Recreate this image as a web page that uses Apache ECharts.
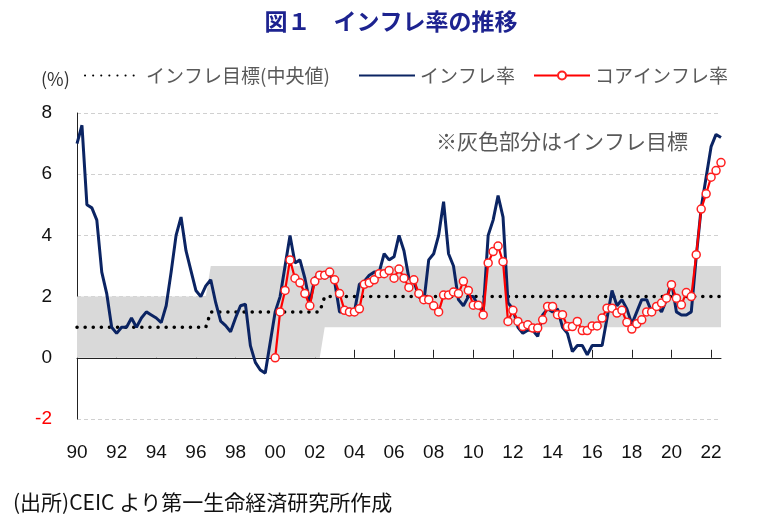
<!DOCTYPE html>
<html>
<head>
    <meta charset="utf-8">
    <title>インフレ率の推移</title>
    <script src="https://cdn.jsdelivr.net/npm/echarts@6/dist/echarts.min.js"></script>
    <style>
        body { margin: 0; background: #fff; }
    </style>
</head>
<body>
<div id="main" style="width: 782px;height:527px;"></div>

<script type="text/javascript">
    // 四半期データ（1990Q1～2022Q3）
    var startYear = 1990;

    // インフレ率（前年比, %）
    var cpi = [
        7.0, 7.6, 5.0, 4.9,     // 1990
        4.5, 2.8, 2.1, 1.0,     // 1991
        0.8, 1.0, 1.0, 1.3,     // 1992
        1.0, 1.3, 1.5, 1.4,     // 1993
        1.3, 1.15, 1.7, 2.8,    // 1994
        4.0, 4.6, 3.5, 2.85,    // 1995
        2.2, 2.0, 2.35, 2.55,   // 1996
        1.8, 1.2, 1.05, 0.85,   // 1997
        1.3, 1.7, 1.75, 0.4,    // 1998
        -0.15, -0.4, -0.5, 0.5, // 1999
        1.5, 2.0, 3.0, 4.0,     // 2000
        3.1, 3.2, 2.6, 1.8,     // 2001
        2.6, 2.8, 2.6, 2.7,     // 2002
        2.5, 1.5, 1.5, 1.6,     // 2003
        1.5, 2.4, 2.5, 2.7,     // 2004
        2.8, 2.8, 3.4, 3.2,     // 2005
        3.3, 4.0, 3.5, 2.6,     // 2006
        2.5, 2.0, 1.8, 3.2,     // 2007
        3.4, 4.0, 5.1, 3.4,     // 2008
        3.0, 1.9, 1.7, 2.0,     // 2009
        2.0, 1.7, 1.5, 4.0,     // 2010
        4.5, 5.3, 4.6, 1.8,     // 2011
        1.6, 1.0, 0.8, 0.9,     // 2012
        0.9, 0.7, 1.4, 1.6,     // 2013
        1.5, 1.6, 1.0, 0.8,     // 2014
        0.2, 0.4, 0.4, 0.1,     // 2015
        0.4, 0.4, 0.4, 1.3,     // 2016
        2.2, 1.7, 1.9, 1.6,     // 2017
        1.1, 1.5, 1.9, 1.9,     // 2018
        1.5, 1.7, 1.5, 1.9,     // 2019
        2.5, 1.5, 1.4, 1.4,     // 2020
        1.5, 3.3, 4.9, 5.9,     // 2021
        6.9, 7.3, 7.2           // 2022
    ];

    // コアインフレ率（2000Q1から）
    var coreStart = '2000Q1';
    var core = [
        0.0, 1.5, 2.2, 3.2,     // 2000
        2.6, 2.45, 2.1, 1.7,    // 2001
        2.5, 2.7, 2.7, 2.8,     // 2002
        2.55, 2.1, 1.55, 1.5,   // 2003
        1.5, 1.6, 2.4, 2.45,    // 2004
        2.55, 2.75, 2.75, 2.85, // 2005
        2.6, 2.9, 2.6, 2.3,     // 2006
        2.55, 2.1, 1.9, 1.9,    // 2007
        1.7, 1.5, 2.05, 2.05,   // 2008
        2.15, 2.1, 2.5, 2.2,    // 2009
        1.72, 1.72, 1.4, 3.1,   // 2010
        3.47, 3.65, 3.14, 1.19, // 2011
        1.55, 1.19, 1.02, 1.08, // 2012
        0.97, 0.97, 1.24, 1.68, // 2013
        1.68, 1.41, 1.41, 1.02, // 2014
        1.02, 1.19, 0.89, 0.89, // 2015
        1.04, 1.04, 1.3, 1.62,  // 2016
        1.62, 1.46, 1.55, 1.16, // 2017
        0.94, 1.11, 1.24, 1.5,  // 2018
        1.5, 1.68, 1.79, 1.95,  // 2019
        2.39, 1.95, 1.73, 2.13, // 2020
        2.0, 3.37, 4.86, 5.36,  // 2021
        5.9, 6.12, 6.38         // 2022
    ];

    // インフレ目標（期間ごと）
    var targetFrom = ['1990Q1', '1996Q4', '2002Q3'];
    var targetLow  = [0, 0, 1];
    var targetHigh = [2, 3, 3];
    var targetMid  = [1, 1.5, 2];

    // 目盛ラベル（2年ごと）
    var xTickLabels = ['90','92','94','96','98','00','02','04','06','08','10','12','14','16','18','20','22'];
    var yTicks = [-2, 0, 2, 4, 6, 8];

    // カテゴリ（四半期）
    var quarters = [];
    for (var i = 0; i < cpi.length; i++) {
        quarters.push((startYear + Math.floor(i / 4)) + 'Q' + (i % 4 + 1));
    }

    // 目標帯を四半期ごとに展開
    var lowSeries = [], bandSeries = [], midSeries = [];
    quarters.forEach(function (q) {
        var k = 0;
        for (var j = 0; j < targetFrom.length; j++) {
            if (q >= targetFrom[j]) k = j;
        }
        lowSeries.push(targetLow[k]);
        bandSeries.push(targetHigh[k] - targetLow[k]);
        midSeries.push(targetMid[k]);
    });

    var coreOffset = quarters.indexOf(coreStart);
    var coreSeries = quarters.map(function (q, i) {
        var v = core[i - coreOffset];
        return (i < coreOffset || v === undefined) ? null : v;
    });

    var myChart = echarts.init(document.getElementById('main'));

    var font = '"Noto Sans CJK JP", "Noto Sans", sans-serif';
    var legendText = { fontSize: 19, color: '#595959', fontFamily: font };

    var option = {
        animation: false,
        backgroundColor: '#fff',
        textStyle: { fontFamily: font },
        title: [{
            text: '図１　インフレ率の推移',
            left: 'center',
            top: 5,
            textStyle: { fontSize: 23, fontWeight: 'bold', color: '#1d2390', fontFamily: font }
        }, {
            text: '(%)',
            left: 36,
            top: 65,
            textStyle: { fontSize: 18, fontWeight: 'normal', color: '#333', fontFamily: font }
        }, {
            text: '※灰色部分はインフレ目標',
            left: 431,
            top: 126,
            textStyle: { fontSize: 21, fontWeight: 'normal', color: '#595959', fontFamily: font }
        }, {
            text: '(出所)CEIC より第一生命経済研究所作成',
            left: 8,
            top: 487,
            textStyle: { fontSize: 21, fontWeight: 'normal', color: '#111', fontFamily: font }
        }],
        legend: [{
            data: ['インフレ目標(中央値)'],
            left: 84, top: 66, padding: 0,
            itemWidth: 56, itemHeight: 20,
            itemStyle: { opacity: 0 },
            textStyle: legendText
        }, {
            data: ['インフレ率'],
            left: 358, top: 66, padding: 0,
            itemWidth: 56, itemHeight: 20,
            itemStyle: { opacity: 0 },
            textStyle: legendText
        }, {
            data: ['コアインフレ率'],
            left: 533, top: 66, padding: 0,
            itemWidth: 56, itemHeight: 10,
            textStyle: legendText
        }],
        grid: {
            left: 77,
            right: 61,
            top: 113,
            bottom: 108,
            containLabel: false
        },
        xAxis: [{
            // 下側のラベル用
            type: 'category',
            data: quarters,
            boundaryGap: false,
            position: 'bottom',
            axisLine: { show: false, onZero: false },
            axisTick: { show: false },
            splitLine: { show: false },
            axisLabel: {
                interval: 7,
                margin: 24,
                fontSize: 19,
                color: '#111',
                fontFamily: '"Liberation Sans Narrow", "Liberation Sans", sans-serif',
                formatter: function (v, idx) { return xTickLabels[idx / 8]; }
            }
        }, {
            // 0 の位置の軸線と目盛
            type: 'category',
            data: quarters,
            boundaryGap: false,
            position: 'top',
            axisLine: { show: true, onZero: true, onZeroAxisIndex: 0, lineStyle: { color: '#222', width: 1 } },
            axisTick: { show: true, interval: 7, inside: false, length: 8, lineStyle: { color: '#222' } },
            axisLabel: { show: false },
            splitLine: { show: false }
        }],
        yAxis: {
            type: 'value',
            min: yTicks[0],
            max: yTicks[yTicks.length - 1],
            interval: 2,
            axisLine: { show: true, lineStyle: { color: '#222', width: 1 } },
            axisTick: { show: false },
            axisLabel: {
                margin: 25,
                fontSize: 19,
                fontFamily: '"Liberation Sans", sans-serif',
                color: function (v) { return Number(v) < 0 ? '#ff0000' : '#111'; }
            },
            splitLine: { lineStyle: { color: '#d0d0d0', type: [4, 3] } }
        },
        series: [{
            name: 'lo',
            type: 'line',
            stack: 'band',
            data: lowSeries,
            symbol: 'none',
            lineStyle: { opacity: 0 },
            silent: true,
            z: 1
        }, {
            name: 'band',
            type: 'line',
            stack: 'band',
            data: bandSeries,
            symbol: 'none',
            lineStyle: { opacity: 0 },
            areaStyle: { color: '#d9d9d9', opacity: 1 },
            silent: true,
            z: 1
        }, {
            name: 'インフレ目標(中央値)',
            type: 'line',
            data: midSeries,
            symbol: 'none',
            itemStyle: { color: '#000' },
            lineStyle: { color: '#000', width: 3.5, type: [0.1, 8], cap: 'round' },
            z: 3
        }, {
            name: 'インフレ率',
            type: 'line',
            data: cpi,
            symbol: 'none',
            itemStyle: { color: '#0b2463' },
            lineStyle: { color: '#0b2463', width: 3 },
            z: 4
        }, {
            name: 'コアインフレ率',
            type: 'line',
            data: coreSeries,
            symbol: 'circle',
            symbolSize: 8,
            showSymbol: true,
            showAllSymbol: true,
            itemStyle: { color: '#fff', borderColor: '#ff2020', borderWidth: 1.5 },
            lineStyle: { color: '#ff0000', width: 2.2 },
            z: 5
        }]
    };

    myChart.setOption(option);
</script>
</body>
</html>
